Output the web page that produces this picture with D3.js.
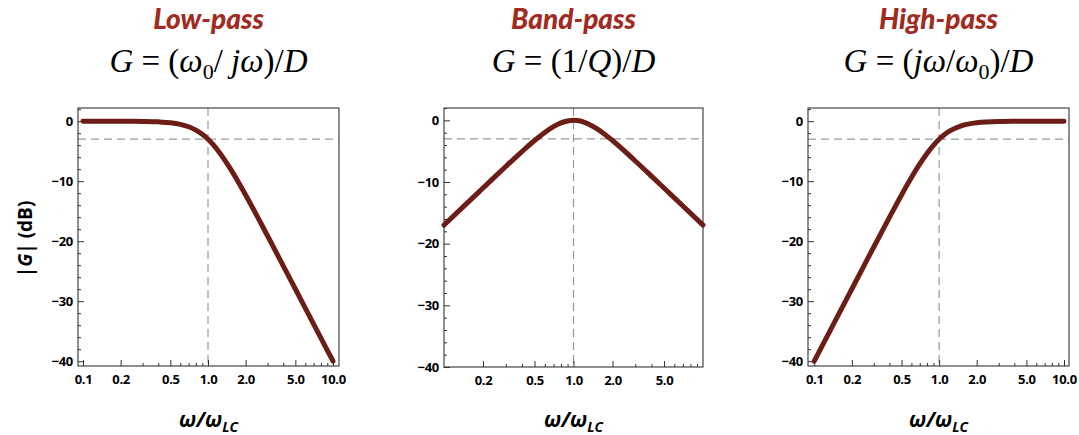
<!DOCTYPE html>
<html>
<head>
<meta charset="utf-8">
<script src="https://cdn.jsdelivr.net/npm/d3@7"></script>
<style>
  html, body { margin: 0; padding: 0; background: #fff; }
  svg { display: block; }
  .tick text { font-family: "Open Sans", Lato, sans-serif; font-weight: 700; font-size: 13px; fill: #000; letter-spacing: -0.3px; }
  .tick line { stroke: #333; stroke-width: 1; }
  .frame { fill: none; stroke: #333; stroke-width: 1.1; }
  .ref { stroke: #999; stroke-width: 1.2; stroke-dasharray: 8,5; fill: none; }
  .curve { fill: none; stroke: #6b1d16; stroke-width: 5; stroke-linecap: round; stroke-linejoin: round; }
  .title { font-family: Lato, "Open Sans", sans-serif; font-weight: 900; font-style: italic; font-size: 28px; fill: #a12b1f; }
  .formula { font-family: "Liberation Serif", "DejaVu Serif", serif; font-size: 33px; fill: #000; }
  .axlabel { font-family: "Open Sans", Lato, sans-serif; font-weight: 700; fill: #000; }
</style>
</head>
<body>
<svg id="chart" width="1079" height="435"></svg>
<script>
(function () {
  'use strict';

  // frequencies (omega / omega_LC)
  const freq = [0.1, 0.15, 0.2, 0.25, 0.3, 0.4, 0.5, 0.6, 0.7, 0.8, 0.9, 1.0, 1.1, 1.2, 1.5, 2, 3, 4, 5, 7, 10];
  const lowPassDb = [0.0, -0.002, -0.007, -0.017, -0.035, -0.11, -0.26, -0.53, -0.93, -1.49, -2.19,
    -3.01, -3.92, -4.88, -7.83, -12.30, -19.14, -24.10, -27.97, -33.81, -40.0];
  const bandPassDb = [-16.99, -13.47, -10.98, -9.05, -7.48, -5.06, -3.27, -1.96, -1.02, -0.42, -0.10,
    0, -0.08, -0.28, -1.29, -3.27, -6.59, -9.05, -10.98, -13.89, -16.99];
  const highPassDb = [-40.0, -32.96, -27.97, -24.10, -20.95, -16.03, -12.30, -9.40, -7.13, -5.37, -4.02,
    -3.01, -2.26, -1.71, -0.78, -0.26, -0.053, -0.017, -0.007, -0.002, 0.0];

  const cutoffDb = -3;
  const cutoffFreq = 1;

  const xTicksFull = [0.1, 0.2, 0.5, 1, 2, 5, 10];
  const xTicksBand = [0.2, 0.5, 1, 2, 5];
  const xMinorTicks = [0.3, 0.4, 0.6, 0.7, 0.8, 0.9, 3, 4, 6, 7, 8, 9];
  const yTicks = [0, -10, -20, -30, -40];
  const yMinorTicks = [2, -2, -4, -6, -8, -12, -14, -16, -18, -22, -24, -26, -28, -32, -34, -36, -38];

  const titles = ['Low-pass', 'Band-pass', 'High-pass'];

  const svg = d3.select('#chart');

  const panels = [
    { title: titles[0], values: lowPassDb, xTicks: xTicksFull, left: 78, right: 339, top: 108, bottom: 366,
      xDom: [Math.pow(10, -1.04), Math.pow(10, 1.048)], yDom: [-40.8, 2.2], yLabel: true,
      formula: [['G', 'i'], [' = (', ''], ['ω', 'i'], ['0', 'sub'], ['/ ', ''], ['jω', 'i'], [')/', ''], ['D', 'i']] },
    { title: titles[1], values: bandPassDb, xTicks: xTicksBand, left: 444, right: 703, top: 108, bottom: 367,
      xDom: [0.1, 10], yDom: [-40, 2], yLabel: false,
      formula: [['G', 'i'], [' = (1/', ''], ['Q', 'i'], [')/', ''], ['D', 'i']] },
    { title: titles[2], values: highPassDb, xTicks: xTicksFull, left: 808, right: 1069, top: 108, bottom: 366,
      xDom: [Math.pow(10, -1.05), Math.pow(10, 1.04)], yDom: [-40.8, 2.2], yLabel: false,
      formula: [['G', 'i'], [' = (', ''], ['jω', 'i'], ['/', ''], ['ω', 'i'], ['0', 'sub'], [')/', ''], ['D', 'i']] }
  ];

  panels.forEach(p => {
    const x = d3.scaleLog().domain(p.xDom).range([p.left, p.right]);
    const y = d3.scaleLinear().domain(p.yDom).range([p.bottom, p.top]);
    const cx = (p.left + p.right) / 2;
    const g = svg.append('g');

    // titles
    g.append('text').attr('class', 'title').attr('x', cx).attr('y', 29)
      .attr('text-anchor', 'middle').text(p.title);

    const ft = g.append('text').attr('class', 'formula').attr('x', cx).attr('y', 72)
      .attr('text-anchor', 'middle');
    p.formula.forEach(([s, kind], i) => {
      const ts = ft.append('tspan').text(s);
      if (kind === 'i') ts.attr('font-style', 'italic');
      if (kind === 'sub') ts.attr('font-size', '22px').attr('dy', 7);
      if (i > 0 && p.formula[i - 1][1] === 'sub') ts.attr('dy', -7);
    });

    // reference lines
    g.append('line').attr('class', 'ref')
      .attr('x1', p.left).attr('x2', p.right).attr('y1', y(cutoffDb)).attr('y2', y(cutoffDb));
    g.append('line').attr('class', 'ref')
      .attr('x1', x(cutoffFreq)).attr('x2', x(cutoffFreq)).attr('y1', p.top).attr('y2', p.bottom);

    // axes, ticks pointing inward
    g.append('g').attr('transform', `translate(0,${p.bottom})`)
      .call(d3.axisBottom(x).tickValues(p.xTicks).tickFormat(d3.format('.1f'))
        .tickSizeInner(-6).tickSizeOuter(0).tickPadding(9))
      .call(a => a.select('.domain').remove());
    g.append('g').attr('transform', `translate(0,${p.bottom})`)
      .call(d3.axisBottom(x).tickValues(xMinorTicks).tickFormat('').tickSizeInner(-3).tickSizeOuter(0))
      .call(a => a.select('.domain').remove());
    g.append('g').attr('transform', `translate(${p.left},0)`)
      .call(d3.axisLeft(y).tickValues(yTicks).tickFormat(d3.format('d'))
        .tickSizeInner(-6).tickSizeOuter(0).tickPadding(5))
      .call(a => a.select('.domain').remove());
    g.append('g').attr('transform', `translate(${p.left},0)`)
      .call(d3.axisLeft(y).tickValues(yMinorTicks.filter(v => v >= p.yDom[0] && v <= p.yDom[1]))
        .tickFormat('').tickSizeInner(-3).tickSizeOuter(0))
      .call(a => a.select('.domain').remove());

    g.append('rect').attr('class', 'frame')
      .attr('x', p.left).attr('y', p.top)
      .attr('width', p.right - p.left).attr('height', p.bottom - p.top);

    // curve
    const pts = freq.map((f, i) => [f, p.values[i]]);
    g.append('path').attr('class', 'curve').datum(pts)
      .attr('d', d3.line().x(d => x(d[0])).y(d => y(d[1])).curve(d3.curveMonotoneX));

    // x label
    const xl = g.append('text').attr('class', 'axlabel').attr('x', cx).attr('y', 427)
      .attr('text-anchor', 'middle').attr('font-size', '21px').attr('font-style', 'italic');
    xl.append('tspan').text('ω/ω');
    xl.append('tspan').text('LC').attr('font-size', '14px').attr('dy', 5);

    if (p.yLabel) {
      const yl = g.append('text').attr('class', 'axlabel').attr('font-size', '19px')
        .attr('text-anchor', 'middle')
        .attr('transform', `translate(32,${(p.top + p.bottom) / 2 + 2}) rotate(-90)`);
      yl.append('tspan').text('|');
      yl.append('tspan').text('G').attr('font-style', 'italic');
      yl.append('tspan').text('| (dB)');
    }
  });
})();
</script>
</body>
</html>
